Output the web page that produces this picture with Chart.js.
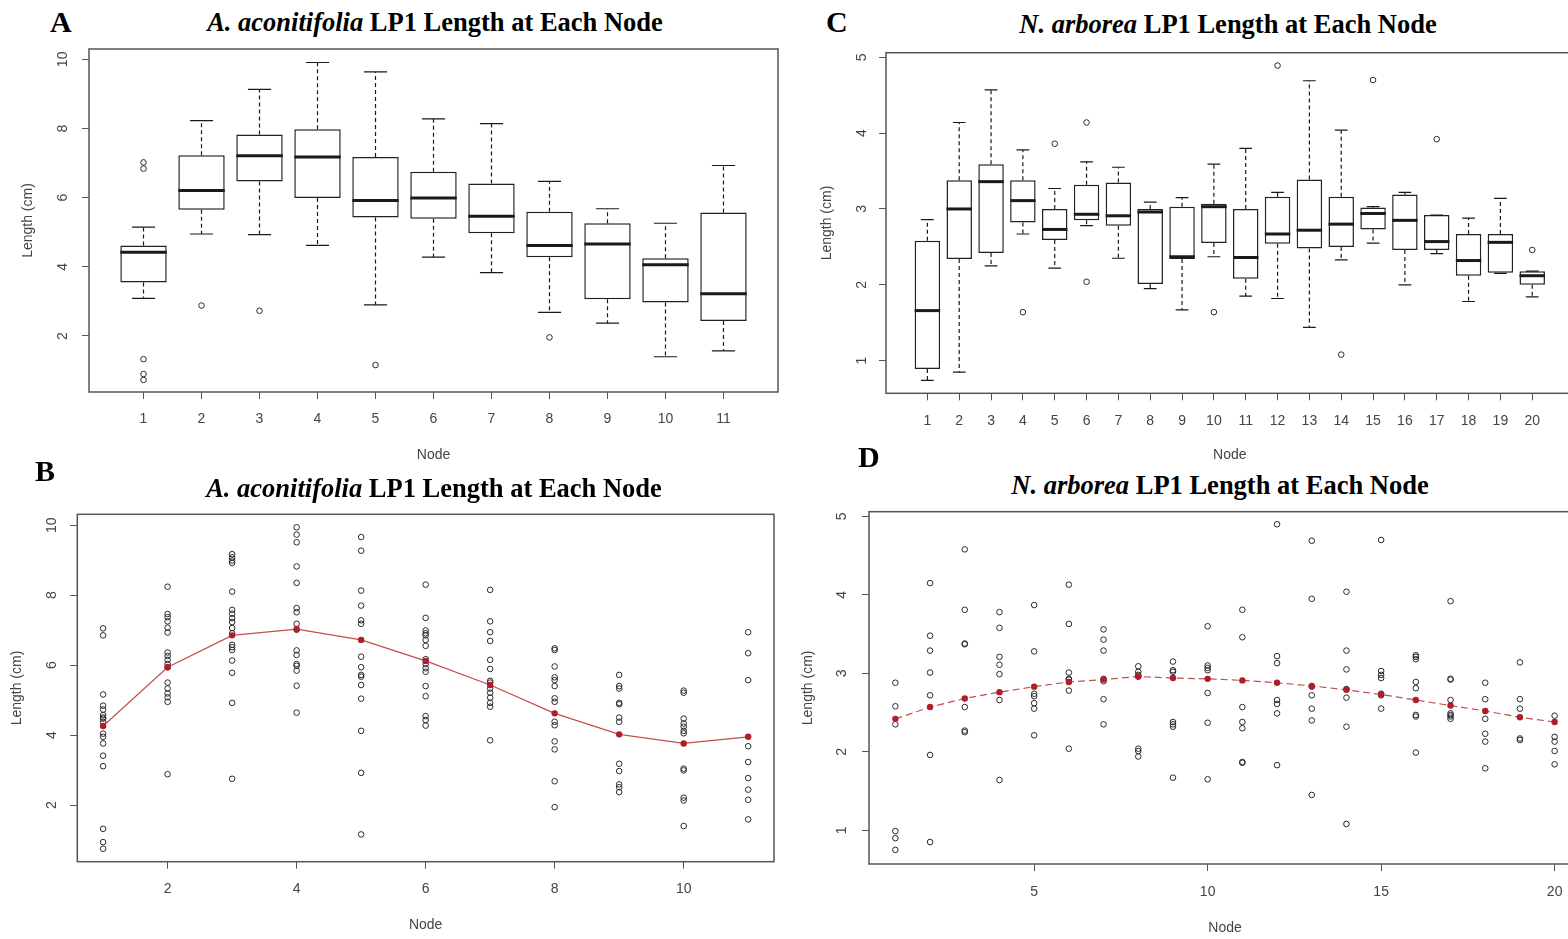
<!DOCTYPE html>
<html>
<head>
<meta charset="utf-8">
<script src="https://cdn.jsdelivr.net/npm/chart.js@4.4.1/dist/chart.umd.min.js"></script>
<style>
  html, body { margin: 0; padding: 0; background: #fff; overflow: hidden; }
  body { width: 1568px; height: 939px; position: relative; }
  .panel { position: absolute; }
  .letter { position: absolute; font: bold 30px "Liberation Serif", "Times New Roman", serif; line-height: 34px; color: #000; }
  .title { position: absolute; font: bold 26.5px "Liberation Serif", "Times New Roman", serif; line-height: 30px; white-space: nowrap; transform: translateX(-50%); color: #000; }
</style>
</head>
<body>
<div class="panel" style="left:0;top:40px"><canvas id="chartA" width="790" height="430"></canvas></div>
<div class="panel" style="left:800px;top:40px"><canvas id="chartC" width="790" height="420"></canvas></div>
<div class="panel" style="left:0;top:500px"><canvas id="chartB" width="790" height="439"></canvas></div>
<div class="panel" style="left:800px;top:500px"><canvas id="chartD" width="800" height="439"></canvas></div>

<div class="letter" style="left:50px;top:5px">A</div>
<div class="letter" style="left:35px;top:454px">B</div>
<div class="letter" style="left:826px;top:5px">C</div>
<div class="letter" style="left:858px;top:440px">D</div>

<div class="title" style="left:435px;top:7px"><i>A. aconitifolia</i> LP1 Length at Each Node</div>
<div class="title" style="left:1228px;top:9px"><i>N. arborea</i> LP1 Length at Each Node</div>
<div class="title" style="left:434px;top:473px"><i>A. aconitifolia</i> LP1 Length at Each Node</div>
<div class="title" style="left:1220px;top:470px"><i>N. arborea</i> LP1 Length at Each Node</div>

<script>
// ---------- DATA: A. aconitifolia ----------
const acNodes = [1, 2, 3, 4, 5, 6, 7, 8, 9, 10, 11];
const acYTicks = [2, 4, 6, 8, 10];
const acXTicksScatter = [2, 4, 6, 8, 10];

// box plot stats (panel A)
const acLo  = [3.09, 4.95, 4.93, 4.62, 2.90, 4.28, 3.83, 2.68, 2.37, 1.40, 1.57];
const acQ1  = [3.55, 5.65, 6.47, 5.99, 5.43, 5.39, 4.97, 4.28, 3.06, 2.97, 2.43];
const acMed = [4.42, 6.21, 7.21, 7.18, 5.92, 5.99, 5.46, 4.62, 4.66, 4.06, 3.22];
const acQ3  = [4.62, 7.23, 7.83, 7.98, 7.18, 6.75, 6.41, 5.59, 5.26, 4.25, 5.57];
const acHi  = [5.15, 8.23, 9.13, 9.91, 9.64, 8.28, 8.14, 6.47, 5.68, 5.26, 6.93];
const acOutX = [1, 1, 1, 1, 1, 2, 3, 5, 8];
const acOutY = [7.02, 6.84, 1.33, 0.90, 0.73, 2.88, 2.73, 1.16, 1.96];

// raw lengths per node (panel B)
const acLengths = [
  [7.05, 6.85, 5.16, 4.84, 4.73, 4.57, 4.50, 4.47, 4.38, 4.04, 3.95, 3.76, 3.41, 3.11, 1.32, 0.94, 0.75],
  [8.24, 7.46, 7.37, 7.25, 7.07, 6.93, 6.36, 6.26, 6.15, 6.03, 5.94, 5.50, 5.33, 5.19, 5.08, 4.95, 2.88],
  [9.17, 9.08, 8.99, 8.92, 8.10, 7.58, 7.47, 7.34, 7.23, 7.06, 6.91, 6.58, 6.51, 6.43, 6.13, 5.78, 4.92, 2.75],
  [9.94, 9.73, 9.51, 8.82, 8.35, 7.63, 7.51, 7.18, 7.01, 6.42, 6.29, 6.03, 5.98, 5.84, 5.41, 4.64],
  [9.66, 9.27, 8.13, 7.70, 7.28, 7.18, 6.24, 5.94, 5.72, 5.67, 5.43, 5.04, 4.12, 2.92, 1.16],
  [8.30, 7.35, 6.99, 6.91, 6.85, 6.72, 6.55, 6.17, 6.03, 5.91, 5.81, 5.40, 5.11, 4.54, 4.43, 4.27],
  [8.15, 7.25, 6.94, 6.69, 6.15, 5.89, 5.55, 5.50, 5.33, 5.21, 5.07, 4.92, 4.81, 3.85],
  [6.48, 6.43, 5.96, 5.65, 5.57, 5.40, 5.05, 4.95, 4.38, 4.28, 3.82, 3.59, 2.68, 1.94],
  [5.72, 5.40, 5.33, 4.92, 4.88, 4.50, 4.38, 3.18, 2.97, 2.59, 2.51, 2.37],
  [5.27, 5.21, 4.47, 4.33, 4.24, 4.12, 4.05, 3.04, 2.99, 2.21, 2.13, 1.40],
  [6.94, 6.34, 5.57, 3.68, 3.23, 2.77, 2.44, 2.15, 1.59]
];
const acFit = [4.26, 5.94, 6.85, 7.03, 6.72, 6.12, 5.43, 4.62, 4.02, 3.76, 3.95];

// ---------- DATA: N. arborea ----------
const naNodes = [1, 2, 3, 4, 5, 6, 7, 8, 9, 10, 11, 12, 13, 14, 15, 16, 17, 18, 19, 20];
const naYTicks = [1, 2, 3, 4, 5];
const naXTicksScatter = [5, 10, 15, 20];

// box plot stats (panel C)
const naLo  = [0.74, 0.85, 2.25, 2.67, 2.22, 2.78, 2.35, 1.95, 1.67, 2.37, 1.85, 1.82, 1.44, 2.33, 2.55, 2.00, 2.41, 1.78, 2.15, 1.84];
const naQ1  = [0.89, 2.34, 2.42, 2.82, 2.59, 2.85, 2.78, 2.01, 2.34, 2.55, 2.08, 2.54, 2.48, 2.50, 2.73, 2.46, 2.46, 2.12, 2.16, 2.00];
const naMed = [1.66, 3.00, 3.36, 3.11, 2.73, 2.93, 2.91, 2.96, 2.37, 3.03, 2.36, 2.67, 2.72, 2.80, 2.94, 2.85, 2.57, 2.32, 2.56, 2.12];
const naQ3  = [2.58, 3.38, 3.59, 3.38, 3.00, 3.32, 3.35, 3.00, 3.03, 3.07, 3.00, 3.16, 3.39, 3.16, 3.02, 3.19, 2.92, 2.67, 2.67, 2.18];
const naHi  = [2.86, 4.14, 4.57, 3.78, 3.27, 3.62, 3.55, 3.09, 3.15, 3.59, 3.80, 3.22, 4.69, 4.04, 3.03, 3.22, 2.92, 2.88, 3.14, 2.18];
const naOutX = [4, 5, 6, 6, 10, 12, 14, 15, 17, 20];
const naOutY = [1.64, 3.86, 4.14, 2.04, 1.64, 4.89, 1.08, 4.70, 3.92, 2.46];

// raw lengths per node (panel D)
const naLengths = [
  [2.88, 2.58, 2.35, 0.99, 0.90, 0.75],
  [4.15, 3.48, 3.29, 3.01, 2.72, 1.96, 0.85],
  [4.58, 3.81, 3.38, 3.37, 2.57, 2.27, 2.25],
  [3.78, 3.58, 3.21, 3.11, 2.99, 2.66, 1.64],
  [3.87, 3.28, 2.74, 2.71, 2.62, 2.55, 2.21],
  [4.13, 3.63, 3.01, 2.93, 2.92, 2.78, 2.04],
  [3.56, 3.43, 3.29, 2.93, 2.90, 2.67, 2.35],
  [3.09, 3.02, 2.98, 2.96, 2.04, 2.01, 1.94],
  [3.15, 3.04, 3.02, 2.38, 2.35, 2.32, 1.67],
  [3.60, 3.10, 3.07, 3.04, 2.75, 2.37, 1.65],
  [3.81, 3.46, 2.57, 2.38, 2.30, 1.87, 1.86],
  [4.90, 3.22, 3.13, 2.66, 2.61, 2.49, 1.83],
  [4.69, 3.95, 2.83, 2.72, 2.55, 2.40, 1.45],
  [4.04, 3.29, 3.05, 2.80, 2.69, 2.32, 1.08],
  [4.70, 3.03, 2.98, 2.94, 2.74, 2.72, 2.55],
  [3.23, 3.21, 3.18, 2.89, 2.81, 2.47, 2.45, 1.99],
  [3.92, 2.93, 2.92, 2.66, 2.49, 2.47, 2.45, 2.42],
  [2.88, 2.67, 2.42, 2.23, 2.13, 1.79],
  [3.14, 2.67, 2.55, 2.17, 2.15],
  [2.46, 2.19, 2.13, 2.01, 1.84]
];
const naFit = [2.42, 2.57, 2.68, 2.76, 2.83, 2.89, 2.92, 2.96, 2.94, 2.93, 2.91, 2.88, 2.84, 2.79, 2.73, 2.66, 2.59, 2.52, 2.44, 2.38];

// ---------- R-STYLE PLOT HELPERS ----------
const sansFamily = '"Liberation Sans", Arial, sans-serif';
const tickFont = { family: sansFamily, size: 14 };

// frame, rotated y labels, axis titles, box plot whiskers/medians
const rPlot = {
  id: 'rPlot',
  afterDatasetsDraw(chart, args, o) {
    if (!o.box) return;
    const { ctx, scales: { x, y } } = chart;
    const b = o.box;
    const unit = x.getPixelForValue(2) - x.getPixelForValue(1);
    const cap = unit * 0.2, half = unit * 0.4;
    ctx.save();
    ctx.strokeStyle = '#1a1a1a';
    b.nodes.forEach((n, i) => {
      const px = x.getPixelForValue(n);
      ctx.lineWidth = 1.2;
      ctx.setLineDash([4, 3]);
      ctx.beginPath();
      ctx.moveTo(px, y.getPixelForValue(b.q3[i]));
      ctx.lineTo(px, y.getPixelForValue(b.hi[i]));
      ctx.moveTo(px, y.getPixelForValue(b.q1[i]));
      ctx.lineTo(px, y.getPixelForValue(b.lo[i]));
      ctx.stroke();
      ctx.setLineDash([]);
      ctx.beginPath();
      [b.hi[i], b.lo[i]].forEach(v => {
        const py = y.getPixelForValue(v);
        ctx.moveTo(px - cap, py);
        ctx.lineTo(px + cap, py);
      });
      ctx.stroke();
      ctx.lineWidth = 3;
      ctx.beginPath();
      const pm = y.getPixelForValue(b.med[i]);
      ctx.moveTo(px - half, pm);
      ctx.lineTo(px + half, pm);
      ctx.stroke();
    });
    ctx.restore();
  },
  afterDraw(chart, args, o) {
    const { ctx, chartArea: a, scales: { y } } = chart;
    ctx.save();
    ctx.strokeStyle = '#555';
    ctx.lineWidth = 1.5;
    ctx.strokeRect(a.left, a.top, a.right - a.left, a.bottom - a.top);
    ctx.fillStyle = '#444';
    ctx.font = '14px ' + sansFamily;
    ctx.textAlign = 'center';
    ctx.textBaseline = 'middle';
    o.yTicks.forEach(v => {
      ctx.save();
      ctx.translate(a.left - o.yLabelGap, y.getPixelForValue(v));
      ctx.rotate(-Math.PI / 2);
      ctx.fillText(String(v), 0, 0);
      ctx.restore();
    });
    ctx.save();
    ctx.translate(a.left - o.yTitleGap, (a.top + a.bottom) / 2);
    ctx.rotate(-Math.PI / 2);
    ctx.fillText('Length (cm)', 0, 0);
    ctx.restore();
    ctx.fillText('Node', (a.left + a.right) / 2, a.bottom + o.xTitleGap);
    ctx.restore();
  }
};

function rScales(g, xMin, xMax, xTicks, yMin, yMax, yTicks) {
  const grid = { drawOnChartArea: false, drawTicks: true, tickLength: 7, tickColor: '#555', tickWidth: 1, offset: false };
  return {
    x: {
      type: 'linear', min: xMin, max: xMax, offset: false, grid, border: { display: false },
      afterBuildTicks: s => { s.ticks = xTicks.map(v => ({ value: v })); },
      afterFit: s => { s.height = g.h - g.bottom; },
      ticks: { color: '#444', font: tickFont, padding: g.tickPad, maxRotation: 0, autoSkip: false }
    },
    y: {
      type: 'linear', min: yMin, max: yMax, beginAtZero: false, grid, border: { display: false },
      afterBuildTicks: s => { s.ticks = yTicks.map(v => ({ value: v })); },
      afterFit: s => { s.width = g.left; },
      ticks: { display: false }
    }
  };
}

function rOptions(g, scales, rp) {
  return {
    responsive: false,
    animation: false,
    events: [],
    layout: { padding: { left: 0, top: g.top, right: g.w - g.right, bottom: 0 } },
    scales,
    plugins: { legend: { display: false }, tooltip: { enabled: false }, rPlot: rp }
  };
}

function openPoints(xs, ys, radius) {
  return {
    type: 'scatter',
    data: xs.map((x, i) => ({ x, y: ys[i] })),
    pointRadius: radius,
    pointBackgroundColor: 'rgba(0,0,0,0)',
    pointBorderColor: '#2a2a2a',
    pointBorderWidth: 1
  };
}

function boxDataset(nodes, q1, q3) {
  return {
    type: 'bar',
    data: nodes.map((n, i) => ({ x: n, y: [q1[i], q3[i]] })),
    backgroundColor: '#fff',
    borderColor: '#222',
    borderWidth: 1.5,
    borderSkipped: false,
    barPercentage: 0.8,
    categoryPercentage: 1.0
  };
}

function flatPoints(nodes, lengths) {
  const xs = [], ys = [];
  nodes.forEach((n, i) => lengths[i].forEach(v => { xs.push(n); ys.push(v); }));
  return { xs, ys };
}

function fitLine(nodes, fit, dash) {
  return {
    type: 'line',
    data: nodes.map((n, i) => ({ x: n, y: fit[i] })),
    borderColor: '#c0504d',
    borderWidth: 1.2,
    borderDash: dash,
    pointRadius: 3.2,
    pointBackgroundColor: '#b01e28',
    pointBorderColor: '#b01e28',
    pointBorderWidth: 0,
    tension: 0,
    fill: false
  };
}

// ---------- PANEL A ----------
const gA = { w: 790, h: 430, left: 89, top: 9, right: 778, bottom: 352, tickPad: 12 };
new Chart(document.getElementById('chartA'), {
  type: 'bar',
  data: { datasets: [openPoints(acOutX, acOutY, 2.8), boxDataset(acNodes, acQ1, acQ3)] },
  options: rOptions(gA, rScales(gA, 0.06, 11.94, acNodes, 0.38, 10.30, acYTicks),
    { yTicks: acYTicks, yLabelGap: 26, yTitleGap: 61, xTitleGap: 63,
      box: { nodes: acNodes, lo: acLo, q1: acQ1, med: acMed, q3: acQ3, hi: acHi } }),
  plugins: [rPlot]
});

// ---------- PANEL C ----------
const gC = { w: 790, h: 420, left: 86, top: 12.7, right: 773.6, bottom: 353.3, tickPad: 12 };
new Chart(document.getElementById('chartC'), {
  type: 'bar',
  data: { datasets: [openPoints(naOutX, naOutY, 2.8), boxDataset(naNodes, naQ1, naQ3)] },
  options: rOptions(gC, rScales(gC, -0.3, 21.3, naNodes, 0.57, 5.06, naYTicks),
    { yTicks: naYTicks, yLabelGap: 24, yTitleGap: 59, xTitleGap: 62,
      box: { nodes: naNodes, lo: naLo, q1: naQ1, med: naMed, q3: naQ3, hi: naHi } }),
  plugins: [rPlot]
});

// ---------- PANEL B ----------
const gB = { w: 790, h: 439, left: 77.3, top: 14.3, right: 774, bottom: 361.7, tickPad: 12 };
const acPts = flatPoints(acNodes, acLengths);
new Chart(document.getElementById('chartB'), {
  type: 'scatter',
  data: { datasets: [fitLine(acNodes, acFit, []), openPoints(acPts.xs, acPts.ys, 2.8)] },
  options: rOptions(gB, rScales(gB, 0.6, 11.4, acXTicksScatter, 0.38, 10.31, acYTicks),
    { yTicks: acYTicks, yLabelGap: 25, yTitleGap: 60, xTitleGap: 63 }),
  plugins: [rPlot]
});

// ---------- PANEL D ----------
const gD = { w: 800, h: 439, left: 69, top: 11.7, right: 781, bottom: 364, tickPad: 13 };
const naPts = flatPoints(naNodes, naLengths);
new Chart(document.getElementById('chartD'), {
  type: 'scatter',
  data: { datasets: [fitLine(naNodes, naFit, [7, 4]), openPoints(naPts.xs, naPts.ys, 2.8)] },
  options: rOptions(gD, rScales(gD, 0.24, 20.76, naXTicksScatter, 0.57, 5.06, naYTicks),
    { yTicks: naYTicks, yLabelGap: 27, yTitleGap: 61, xTitleGap: 64 }),
  plugins: [rPlot]
});
</script>
</body>
</html>
